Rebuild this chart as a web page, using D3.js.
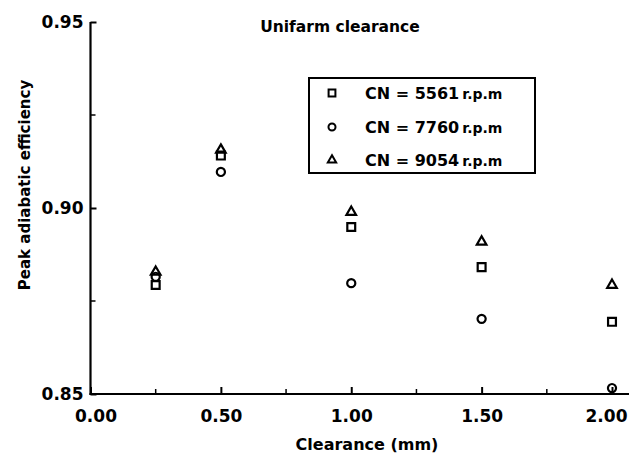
<!DOCTYPE html>
<html>
<head>
<meta charset="utf-8">
<script src="https://cdn.jsdelivr.net/npm/d3@7"></script>
<style>
  body { margin: 0; background: #fff; }
  svg { display: block; font-family: "DejaVu Sans", sans-serif; font-weight: bold; }
</style>
</head>
<body>
<svg id="chart" width="629" height="454"></svg>
<script>
var clearance = [0.25, 0.50, 1.00, 1.50, 2.00]
var eff5561 = [0.8793, 0.9141, 0.8949, 0.8841, 0.8694]
var eff7760 = [0.8815, 0.9097, 0.8798, 0.8702, 0.8516]
var eff9054 = [0.8828, 0.9156, 0.8989, 0.8909, 0.8793]
var seriesNames = ["CN = 5561", "CN = 7760", "CN = 9054"]
var xTicks = [0, 0.5, 1.0, 1.5, 2.0]
var xMinor = [0.25, 0.75, 1.25, 1.75]
var yTicks = [0.85, 0.90, 0.95]
var yMinor = [0.875, 0.925]

var svg = d3.select("#chart")
var W = 629, H = 454
var x = d3.scaleLinear().domain([0, 2]).range([90.5, 612])
var y = d3.scaleLinear().domain([0.85, 0.95]).range([394, 22])

var shapes = [d3.symbolSquare, d3.symbolCircle, d3.symbolTriangle]
var sizes = [62, 52, 40]
var series = [eff5561, eff7760, eff9054]

// axis lines
svg.append("line").attr("x1", x(0)).attr("x2", x(0))
    .attr("y1", y(0.95)).attr("y2", y(0.85) + 1)
    .attr("stroke", "#000").attr("stroke-width", 2.2)
svg.append("line").attr("x1", x(0) - 1).attr("x2", W)
    .attr("y1", y(0.85)).attr("y2", y(0.85))
    .attr("stroke", "#000").attr("stroke-width", 2.2)

// x ticks (inward)
var xAxis = d3.axisBottom(x).tickValues(xTicks).tickSize(-7).tickPadding(16)
    .tickFormat(d3.format(".2f"))
var gx = svg.append("g").attr("transform", "translate(0," + y(0.85) + ")").call(xAxis)
gx.select(".domain").remove()
gx.selectAll(".tick line").attr("stroke-width", 2)
gx.selectAll(".tick text").attr("font-size", 17).attr("font-family", "DejaVu Sans")
    .attr("font-weight", "bold").attr("fill", "#000")
gx.selectAll(".tick").filter(function(d) { return d === 0 }).select("text").attr("dx", 5)
gx.selectAll(".tick").filter(function(d) { return d === 2 }).select("text").attr("dx", -6)

svg.append("g").selectAll("line").data(xMinor).enter().append("line")
    .attr("x1", function(d) { return x(d) }).attr("x2", function(d) { return x(d) })
    .attr("y1", y(0.85)).attr("y2", y(0.85) - 5)
    .attr("stroke", "#000").attr("stroke-width", 1.5)

// y ticks (inward)
var yAxis = d3.axisLeft(y).tickValues(yTicks).tickSize(-6).tickPadding(7)
    .tickFormat(d3.format(".2f"))
var gy = svg.append("g").attr("transform", "translate(" + x(0) + ",0)").call(yAxis)
gy.select(".domain").remove()
gy.selectAll(".tick line").attr("stroke-width", 2)
gy.selectAll(".tick text").attr("font-size", 17).attr("font-family", "DejaVu Sans")
    .attr("font-weight", "bold").attr("fill", "#000")

svg.append("g").selectAll("line").data(yMinor).enter().append("line")
    .attr("x1", x(0)).attr("x2", x(0) + 5)
    .attr("y1", function(d) { return y(d) }).attr("y2", function(d) { return y(d) })
    .attr("stroke", "#000").attr("stroke-width", 1.5)

// points
series.forEach(function(vals, i) {
    svg.append("g").selectAll("path").data(vals).enter().append("path")
        .attr("d", d3.symbol().type(shapes[i]).size(sizes[i]))
        .attr("transform", function(d, j) { return "translate(" + x(clearance[j]) + "," + y(d) + ")" })
        .attr("fill", "none").attr("stroke", "#000").attr("stroke-width", 2.2)
})

// title
svg.append("text").attr("x", 340).attr("y", 32).attr("text-anchor", "middle")
    .attr("font-size", 15.5).text("Unifarm clearance")

// axis labels
svg.append("text").attr("x", 367).attr("y", 450).attr("text-anchor", "middle")
    .attr("font-size", 16).text("Clearance (mm)")
svg.append("text").attr("transform", "translate(30,185) rotate(-90)")
    .attr("text-anchor", "middle").attr("font-size", 15).text("Peak adiabatic efficiency")

// legend
var lg = svg.append("g")
lg.append("rect").attr("x", 309).attr("y", 78).attr("width", 226).attr("height", 95)
    .attr("fill", "#fff").attr("stroke", "#000").attr("stroke-width", 2)
var rowY = [93, 127, 160]
seriesNames.forEach(function(name, i) {
    lg.append("path").attr("d", d3.symbol().type(shapes[i]).size(sizes[i] * 0.75))
        .attr("transform", "translate(332," + rowY[i] + ")")
        .attr("fill", "none").attr("stroke", "#000").attr("stroke-width", 2)
    var t = lg.append("text").attr("x", 365).attr("y", rowY[i] + 6).attr("font-size", 16)
    t.append("tspan").text(name)
    t.append("tspan").attr("font-size", 14).attr("dx", 3).text("r.p.m")
})
</script>
</body>
</html>
